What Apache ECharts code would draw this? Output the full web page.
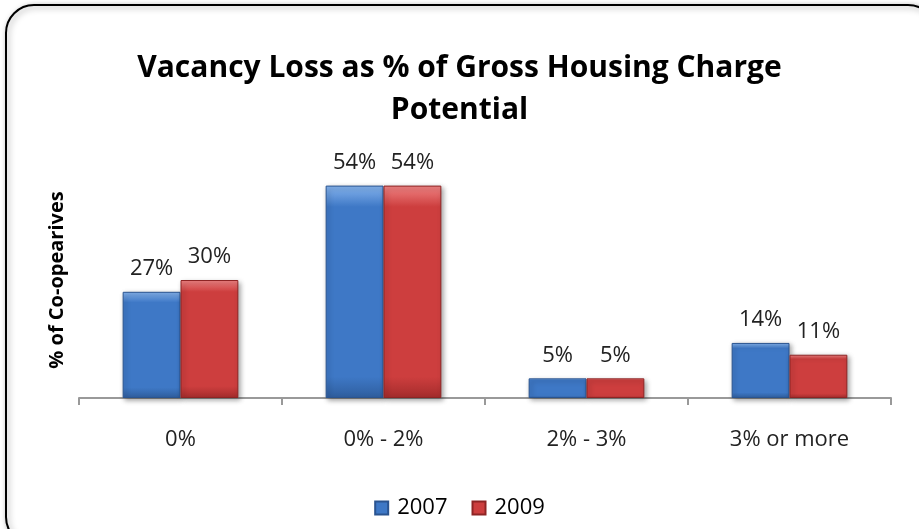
<!DOCTYPE html>
<html>
<head>
<meta charset="utf-8">
<script src="https://cdn.jsdelivr.net/npm/echarts@6/dist/echarts.min.js"></script>
<style>
  html, body { margin: 0; padding: 0; background: #fff; }
  #chart { width: 919px; height: 529px; }
</style>
</head>
<body>
<div id="chart"></div>
<script>
const categories = ['0%', '0% - 2%', '2% - 3%', '3% or more'];
const values2007 = [27, 54, 5, 14];
const values2009 = [30, 54, 5, 11];

const font = 'Open Sans';

// soft bevel look: light top edge, flat body, slightly darker base
const barGrad = (light, mid, dark) => new echarts.graphic.LinearGradient(0, 0, 0, 1, [
  { offset: 0, color: light },
  { offset: 0.1, color: mid },
  { offset: 0.9, color: mid },
  { offset: 1, color: dark }
]);

const chart = echarts.init(document.getElementById('chart'));
chart.setOption({
  animation: false,
  graphic: [{
    type: 'rect',
    shape: { x: 6, y: 5, width: 930, height: 540, r: 28 },
    style: { fill: '#fff', stroke: '#000', lineWidth: 2, shadowBlur: 6, shadowColor: 'rgba(0,0,0,0.35)', shadowOffsetX: 2, shadowOffsetY: 2 },
    z: -10
  }],
  title: {
    text: 'Vacancy Loss as % of Gross Housing Charge\nPotential',
    left: 'center',
    top: 42,
    textStyle: { fontFamily: font, fontWeight: 'bold', fontSize: 30, lineHeight: 42, color: '#000' }
  },
  legend: {
    bottom: 5,
    left: 'center',
    itemWidth: 13,
    itemHeight: 13,
    itemGap: 24,
    icon: 'rect',
    textStyle: { fontFamily: font, fontSize: 22, color: '#000', padding: [0, 0, 0, 4] },
    data: ['2007', '2009']
  },
  grid: { left: 79, right: 28, top: 162, bottom: 131 },
  xAxis: {
    type: 'category',
    data: categories,
    axisLine: { lineStyle: { color: '#999', width: 2 } },
    axisTick: { show: true, length: 7, lineStyle: { color: '#999', width: 2 } },
    axisLabel: { fontFamily: font, fontSize: 22, color: '#222', margin: 31 }
  },
  yAxis: {
    type: 'value',
    min: 0,
    max: 60,
    name: '% of Co-opearives',
    nameLocation: 'middle',
    nameRotate: 90,
    nameGap: 12,
    nameTextStyle: { fontFamily: font, fontWeight: 'bold', fontSize: 20, color: '#000' },
    axisLine: { show: false },
    axisTick: { show: false },
    axisLabel: { show: false },
    splitLine: { show: false }
  },
  series: [
    {
      name: '2007',
      type: 'bar',
      data: values2007,
      barGap: '0%',
      barCategoryGap: '43%',
      itemStyle: {
        color: barGrad('#86b4ee', '#3e78c6', '#2f5e9e'),
        borderColor: '#2a5490',
        borderWidth: 1,
        shadowBlur: 5,
        shadowColor: 'rgba(0,0,0,0.35)',
        shadowOffsetX: 2,
        shadowOffsetY: 2
      },
      label: { show: true, position: 'top', distance: 12, formatter: '{c}%', fontFamily: font, fontSize: 22, color: '#222' }
    },
    {
      name: '2009',
      type: 'bar',
      data: values2009,
      barGap: '0%',
      barCategoryGap: '43%',
      itemStyle: {
        color: barGrad('#f08484', '#cd3e3e', '#a42c2c'),
        borderColor: '#8e2424',
        borderWidth: 1,
        shadowBlur: 5,
        shadowColor: 'rgba(0,0,0,0.35)',
        shadowOffsetX: 2,
        shadowOffsetY: 2
      },
      label: { show: true, position: 'top', distance: 12, formatter: '{c}%', fontFamily: font, fontSize: 22, color: '#222' }
    }
  ]
});
</script>
</body>
</html>
